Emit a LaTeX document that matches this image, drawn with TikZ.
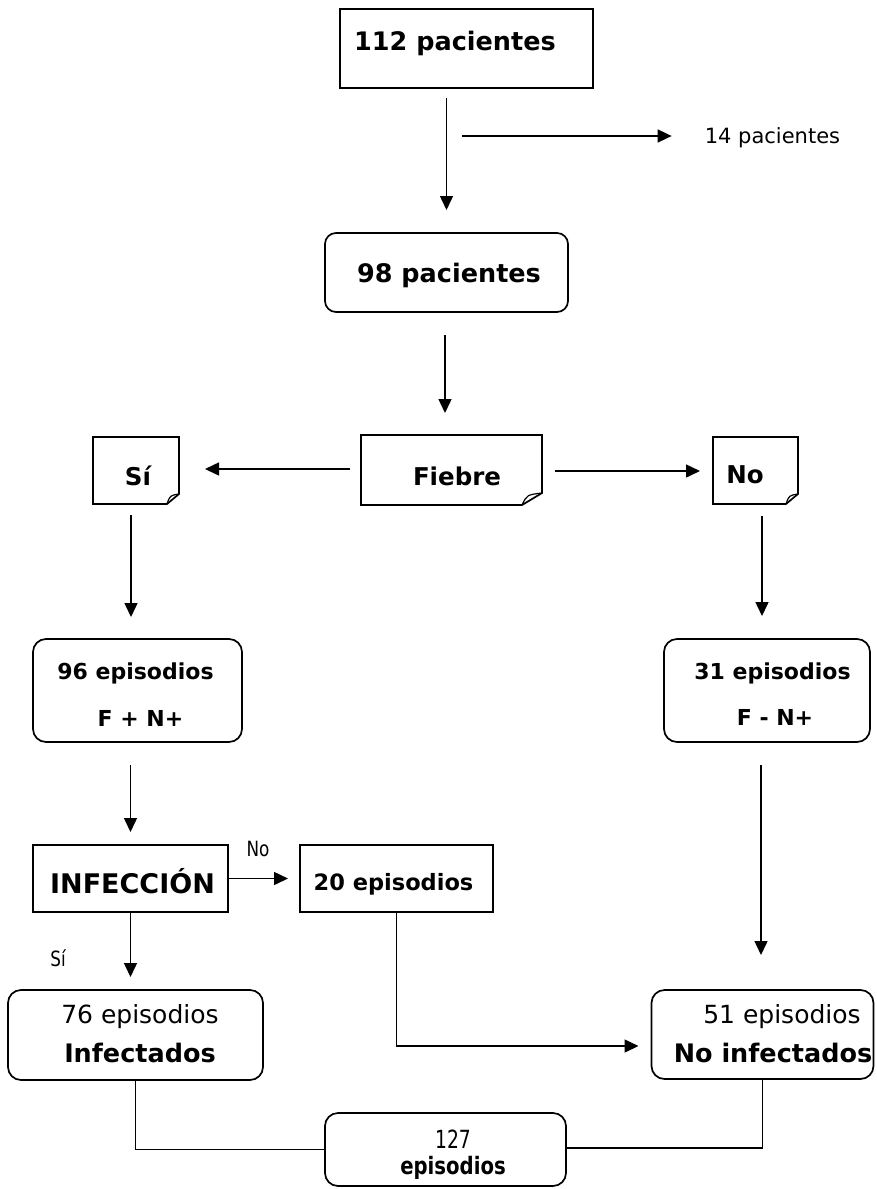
\documentclass[tikz,border=0pt]{standalone}
\usepackage{fontspec}
\setmainfont{DejaVu Sans}
\usepackage{graphicx}
\usetikzlibrary{arrows.meta}
\newcommand\dogear[3]{%
  \draw[boxline, line join=miter] (#1.north west) -- (#1.north east) -- ([yshift=#3]#1.south east) -- ([xshift=-#2]#1.south east) -- (#1.south west) -- cycle;
  \draw[line width=1.2pt] ([yshift=#3]#1.south east) .. controls ([xshift=-0.75*#2, yshift=0.85*#3]#1.south east) .. ([xshift=-#2]#1.south east);
}
\begin{document}
\begin{tikzpicture}[x=1pt,y=-1pt,
  boxline/.style={line width=1.7pt, draw=black},
  rectbox/.style={boxline, inner sep=0pt, outer sep=0pt},
  roundbox/.style={rectbox, rounded corners=11pt},
  foldbox/.style={inner sep=0pt, outer sep=0pt},
  arr/.style={line width=1.5pt, -{Triangle[length=14pt,width=13pt]}},
  conn/.style={line width=1.5pt},
  txt/.style={anchor=base, inner sep=0pt},
  bigb/.style={txt, font=\fontsize{25.5}{30}\selectfont\bfseries},
  midb/.style={txt, font=\fontsize{24.5}{29}\selectfont\bfseries},
  smb/.style={txt, font=\fontsize{22}{26}\selectfont\bfseries},
  infb/.style={txt, font=\fontsize{27}{32}\selectfont\bfseries},
  regt/.style={txt, font=\fontsize{25}{30}\selectfont},
  side/.style={txt, font=\fontsize{21}{25}\selectfont},
  lab/.style={txt, font=\fontsize{21}{25}\selectfont},
]
\useasboundingbox (0,0) rectangle (876,1189);

% boxes
\node[rectbox, minimum width=253pt, minimum height=79pt] (b112) at (466.5,48.5) {};
\node[roundbox, minimum width=243pt, minimum height=79pt] (b98) at (446.5,272.5) {};
\node[foldbox, minimum width=181pt, minimum height=70pt] (fb) at (451.5,470) {};
\node[foldbox, minimum width=86pt, minimum height=67pt] (si) at (136,470.5) {};
\node[foldbox, minimum width=85pt, minimum height=67pt] (no) at (755.5,470.5) {};
\node[roundbox, rounded corners=13pt, minimum width=209pt, minimum height=103pt] (b96) at (137.5,690.5) {};
\node[roundbox, rounded corners=13pt, minimum width=206pt, minimum height=103pt] (b31) at (767,690.5) {};
\node[rectbox, minimum width=195pt, minimum height=67pt] (inf) at (130.5,878.5) {};
\node[rectbox, minimum width=193pt, minimum height=67pt] (b20) at (396.5,878.5) {};
\node[roundbox, rounded corners=13pt, minimum width=255pt, minimum height=90pt] (b76) at (135.5,1035) {};
\node[roundbox, rounded corners=13pt, minimum width=222pt, minimum height=89pt] (b51) at (762.5,1034.5) {};
\node[roundbox, rounded corners=13pt, minimum width=241pt, minimum height=73pt] (b127) at (445.5,1149.5) {};

\dogear{fb}{20pt}{12pt}
\dogear{si}{12pt}{10pt}
\dogear{no}{12pt}{10pt}

% texts
\node[bigb] (t112) at (455,50) {112 pacientes};
\node[side] (t14) at (772.5,143) {14 pacientes};
\node[bigb] (t98) at (449,282) {98 pacientes};
\node[midb] (tfb) at (457,485) {Fiebre};
\node[midb] (tsi) at (138,485) {Sí};
\node[midb] (tno) at (745,483) {No};
\node[smb] (t96) at (135.5,679) {96 episodios};
\node[smb] (t96b) at (140.5,726) {F + N+};
\node[smb] (t31) at (772.5,679) {31 episodios};
\node[smb] (t31b) at (775,725) {F - N+};
\node[infb] (tinf) at (132.5,893) {INFECCIÓN};
\node[lab] (lno) at (258,856) {\scalebox{0.8}[1]{No}};
\node[smb, font=\fontsize{22.5}{27}\selectfont\bfseries] (t20) at (393.5,890) {20 episodios};
\node[lab] (lsi) at (58,966) {\scalebox{0.8}[1]{Sí}};
\node[regt] (t76) at (140,1023) {76 episodios};
\node[bigb] (t76b) at (140,1062) {Infectados};
\node[regt] (t51) at (782,1023) {51 episodios};
\node[bigb] (t51b) at (773,1062) {No infectados};
\node[txt, font=\fontsize{25}{30}\selectfont] (t127) at (453,1148) {\scalebox{0.75}[1]{127}};
\node[txt, font=\fontsize{24}{28}\selectfont\bfseries] (t127b) at (453,1174) {\scalebox{0.82}[1]{episodios}};

% connectors
\draw[arr, shorten <=10pt, shorten >=23pt] (b112.south -| b98.north) -- (b98.north);
\coordinate (exc) at (462,136);
\draw[arr, shorten >=33pt] (exc) -- (exc -| t14.west);
\draw[arr, shorten <=23pt, shorten >=22pt] ([xshift=-1.5pt]b98.south) -- ([xshift=-1.5pt]b98.south |- fb.north);
\draw[arr, shorten <=11pt, shorten >=26pt] ([yshift=1pt]fb.west) -- ([yshift=1pt]fb.west -| si.east);
\draw[arr, shorten <=13pt, shorten >=13pt] ([yshift=-1pt]fb.east) -- ([yshift=-1pt]fb.east -| no.west);
\draw[arr, shorten <=11pt, shorten >=22pt] ([xshift=-5pt]si.south) -- ([xshift=-5pt]si.south |- b96.north);
\draw[arr, shorten <=12pt, shorten >=23pt] ([xshift=6.5pt]no.south) -- ([xshift=6.5pt]no.south |- b31.north);
\draw[arr, shorten <=23pt, shorten >=13pt] (inf.north |- b96.south) -- (inf.north);
\draw[arr, shorten >=12pt] (inf.east) -- (b20.west);
\draw[arr, shorten >=13pt] (inf.south) -- (inf.south |- b76.north);
\draw[arr, shorten <=23pt, shorten >=35pt] ([xshift=-6pt]b31.south) -- ([xshift=-6pt]b31.south |- b51.north);
\draw[arr, shorten >=13pt] (b20.south) |- ([yshift=-11.5pt]b51.west);
\draw[conn] (b76.south) |- (b127.west);
\draw[conn] (b51.south) |- ([yshift=1.5pt]b127.east);
\end{tikzpicture}
\end{document}
